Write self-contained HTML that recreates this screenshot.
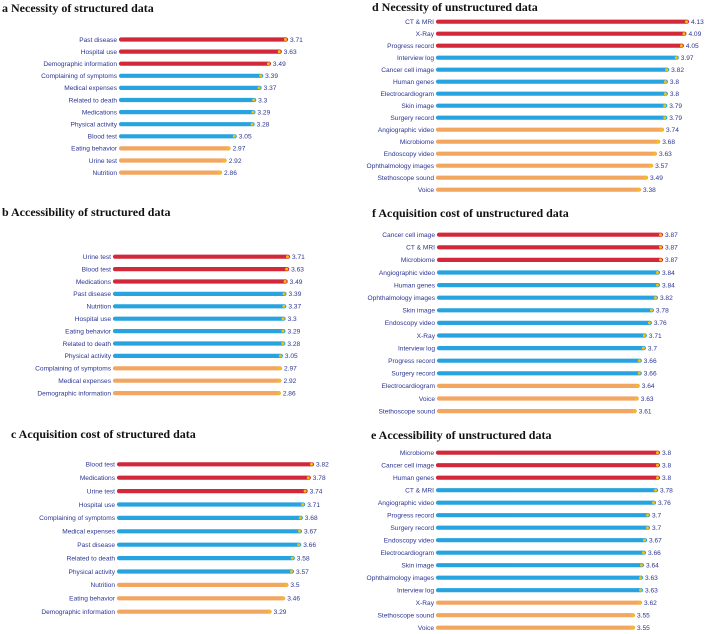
<!DOCTYPE html>
<html><head><meta charset="utf-8">
<style>
html,body{margin:0;padding:0;background:#fff;}
svg{display:block;}
.t{font-family:"Liberation Serif",serif;font-weight:bold;font-size:12px;fill:#111;}
.l{font-family:"Liberation Sans",sans-serif;font-size:6.6px;fill:#2b3592;}
</style></head>
<body>
<svg id="chart" width="708" height="634" viewBox="0 0 708 634">
<text class="t" x="2" y="12">a  Necessity of structured data</text>
<text class="t" x="2" y="216">b  Accessibility of structured data</text>
<text class="t" x="11" y="438">c  Acquisition cost  of structured data</text>
<text class="t" x="372" y="11">d  Necessity of unstructured data</text>
<text class="t" x="372" y="217">f  Acquisition cost  of unstructured data</text>
<text class="t" x="371" y="439">e  Accessibility of unstructured data</text>
</svg>
<script>
const catsA = ["Past disease","Hospital use","Demographic information","Complaining of symptoms","Medical expenses","Related to death","Medications","Physical activity","Blood test","Eating behavior","Urine test","Nutrition"];
const valsA = [3.71,3.63,3.49,3.39,3.37,3.3,3.29,3.28,3.05,2.97,2.92,2.86];
const grpA = [0,0,0,1,1,1,1,1,1,2,2,2];

const catsB = ["Urine test","Blood test","Medications","Past disease","Nutrition","Hospital use","Eating behavior","Related to death","Physical activity","Complaining of symptoms","Medical expenses","Demographic information"];
const valsB = [3.71,3.63,3.49,3.39,3.37,3.3,3.29,3.28,3.05,2.97,2.92,2.86];
const grpB = [0,0,0,1,1,1,1,1,1,2,2,2];

const catsC = ["Blood test","Medications","Urine test","Hospital use","Complaining of symptoms","Medical expenses","Past disease","Related to death","Physical activity","Nutrition","Eating behavior","Demographic information"];
const valsC = [3.82,3.78,3.74,3.71,3.68,3.67,3.66,3.58,3.57,3.5,3.46,3.29];
const grpC = [0,0,0,1,1,1,1,1,1,2,2,2];

const catsD = ["CT & MRI","X-Ray","Progress record","Interview log","Cancer cell image","Human genes","Electrocardiogram","Skin image","Surgery record","Angiographic video","Microbiome","Endoscopy video","Ophthalmology images","Stethoscope sound","Voice"];
const valsD = [4.13,4.09,4.05,3.97,3.82,3.8,3.8,3.79,3.79,3.74,3.68,3.63,3.57,3.49,3.38];
const grpD = [0,0,0,1,1,1,1,1,1,2,2,2,2,2,2];

const catsF = ["Cancer cell image","CT & MRI","Microbiome","Angiographic video","Human genes","Ophthalmology images","Skin image","Endoscopy video","X-Ray","Interview log","Progress record","Surgery record","Electrocardiogram","Voice","Stethoscope sound"];
const valsF = [3.87,3.87,3.87,3.84,3.84,3.82,3.78,3.76,3.71,3.7,3.66,3.66,3.64,3.63,3.61];
const grpF = [0,0,0,1,1,1,1,1,1,1,1,1,2,2,2];

const catsE = ["Microbiome","Cancer cell image","Human genes","CT & MRI","Angiographic video","Progress record","Surgery record","Endoscopy video","Electrocardiogram","Skin image","Ophthalmology images","Interview log","X-Ray","Stethoscope sound","Voice"];
const valsE = [3.8,3.8,3.8,3.78,3.76,3.7,3.7,3.67,3.66,3.64,3.63,3.63,3.62,3.55,3.55];
const grpE = [0,0,0,1,1,1,1,1,1,1,1,1,2,2,2];

const COLORS = ["#d2283a","#27a4df","#f2a660"];
const svg = document.getElementById('chart');
const NS = "http://www.w3.org/2000/svg";

function panel(id, cats, vals, grp, x0, refV, refX, scale, y0, step){
  const xScale = v => refX + (v - refV) * scale;
  const g = document.createElementNS(NS,'g');
  
  
  svg.appendChild(g);
  cats.forEach((c,i)=>{
    const y = y0 + i*step;
    const xe = xScale(vals[i]);
    const lab = document.createElementNS(NS,'text');
    
    
    lab.setAttribute('class','l');
    lab.setAttribute('x', x0 - 2);
    lab.setAttribute('y', y + 2.3);
    lab.setAttribute('text-anchor','end');
    lab.textContent = c;
    g.appendChild(lab);
    const bar = document.createElementNS(NS,'line');
    
    
    bar.setAttribute('x1', x0 + 2); bar.setAttribute('x2', xe - 1);
    bar.setAttribute('y1', y); bar.setAttribute('y2', y);
    bar.setAttribute('stroke', COLORS[grp[i]]);
    bar.setAttribute('stroke-width', 4.2);
    bar.setAttribute('stroke-linecap', 'round');
    g.appendChild(bar);
    const dot = document.createElementNS(NS,'circle');
    
    
    dot.setAttribute('cx', xe - 1.5); dot.setAttribute('cy', y);
    dot.setAttribute('r', 1.5);
    dot.setAttribute('fill', '#f4c20d');
    g.appendChild(dot);
    const vl = document.createElementNS(NS,'text');
    
    
    vl.setAttribute('class','l');
    vl.setAttribute('x', xe + 3);
    vl.setAttribute('y', y + 2.3);
    vl.textContent = String(vals[i]);
    g.appendChild(vl);
  });
}
panel('a', catsA, valsA, grpA, 119, 3.71, 287, 77.6, 39.5, 12.1);
panel('b', catsB, valsB, grpB, 113, 3.71, 289, 10.8, 256.7, 12.4);
panel('c', catsC, valsC, grpC, 117, 3.82, 313, 80, 464.3, 13.4);
panel('d', catsD, valsD, grpD, 436, 4.13, 688, 64, 21.7, 12.0);
panel('f', catsF, valsF, grpF, 437, 3.87, 662, 101, 234.7, 12.6);
panel('e', catsE, valsE, grpE, 436, 3.8, 659, 100, 452.7, 12.5);
</script>
</body></html>
